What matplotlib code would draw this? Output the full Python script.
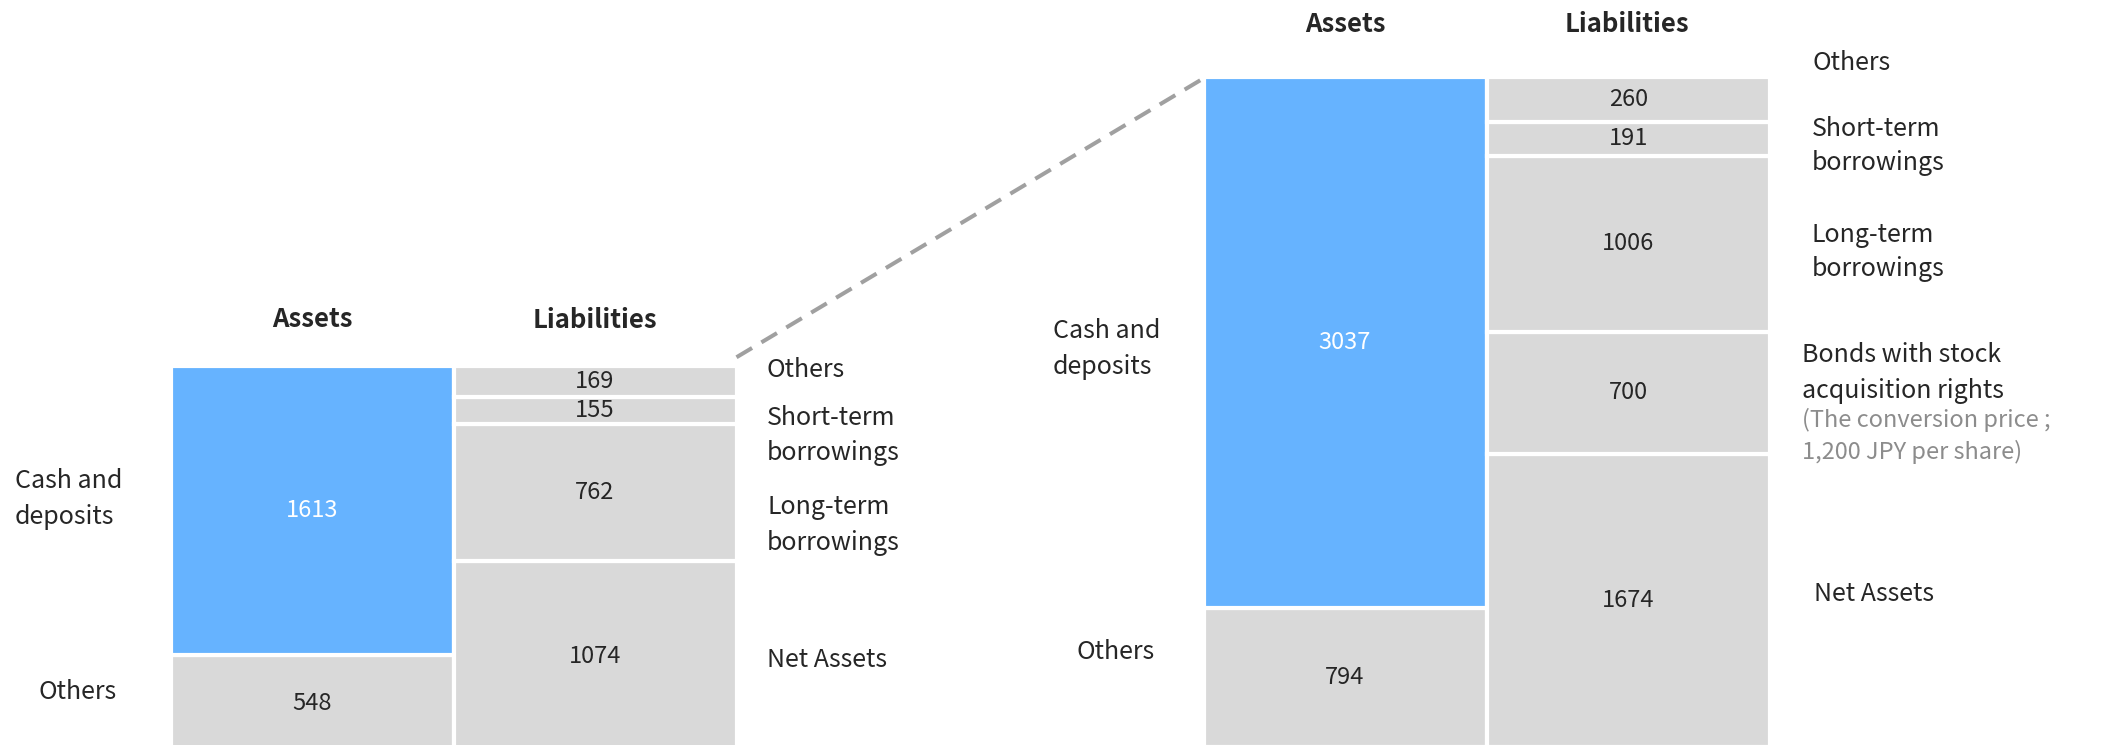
import matplotlib.pyplot as plt
from matplotlib.patches import ConnectionPatch

plt.rcParams['font.family'] = ['Noto Sans CJK JP', 'DejaVu Sans']

# Balance sheet before / after (bottom -> top)
asset_items = ["Others", "Cash and\ndeposits"]
before_assets = [548, 1613]
after_assets = [794, 3037]

before_liab_items = ["Net Assets", "Long-term\nborrowings", "Short-term\nborrowings", "Others"]
before_liabilities = [1074, 762, 155, 169]

after_liab_items = ["Net Assets", "Bonds with stock\nacquisition rights",
                    "Long-term\nborrowings", "Short-term\nborrowings", "Others"]
after_liabilities = [1674, 700, 1006, 191, 260]
bond_note = "(The conversion price ;\n1,200 JPY per share)"

BLUE = "#66B3FF"
GREY = "#D9D9D9"
TXT = "#262626"
W, H = 2104, 745

fig = plt.figure(figsize=(W / 100, H / 100), dpi=100)


def px(x, y):
    # pixel position (from top-left) -> figure fraction
    return x / W, 1 - y / H


def stack(ax, xc, values, colors, width=283):
    bottom = 0
    for v, c in zip(values, colors):
        ax.bar(xc, v, bottom=bottom, width=width, color=c,
               edgecolor="white", linewidth=3)
        ax.text(xc, bottom + v / 2, str(v), ha="center", va="center",
                fontsize=17, color="white" if c == BLUE else TXT)
        bottom += v
    return bottom


def make_axes(ylim):
    ax = fig.add_axes([0, 0, 1, 1])
    ax.set_xlim(0, W)
    ax.set_ylim(*ylim)
    ax.axis("off")
    ax.patch.set_alpha(0)
    return ax


# left: before
axL = make_axes((44.7, 4207))
top_l = stack(axL, 312, before_assets, [GREY, BLUE])
stack(axL, 595, before_liabilities, [GREY] * 4)

# right: after
axR = make_axes((11.4, 4268.6))
top_r = stack(axR, 1345, after_assets, [GREY, BLUE])
stack(axR, 1628.5, after_liabilities, [GREY] * 5)

# dashed connector between the two balance sheets
con = ConnectionPatch(xyA=(595 + 141.5, top_l + 50), coordsA=axL.transData,
                      xyB=(1345 - 141.5, top_r - 10), coordsB=axR.transData,
                      color="#A0A0A0", linestyle=(0, (4.5, 2.7)), linewidth=2.9,
                      capstyle="butt")
fig.add_artist(con)

title_kw = dict(ha="center", va="center", fontsize=18.5, fontweight="bold", color=TXT)
lab_kw = dict(ha="left", va="center", fontsize=18, color=TXT, linespacing=1.45)

# headers
fig.text(*px(312, 319), "Assets", **title_kw)
fig.text(*px(595, 321), "Liabilities", **title_kw)
fig.text(*px(1345, 24), "Assets", **title_kw)
fig.text(*px(1627, 24), "Liabilities", **title_kw)

# left labels
fig.text(*px(15, 499), asset_items[1], **lab_kw)
fig.text(*px(39, 692), asset_items[0], **lab_kw)
for lab, y in zip(before_liab_items, [660, 525, 435, 370]):
    fig.text(*px(767, y), lab, **lab_kw)

# right labels
fig.text(*px(1053, 349), asset_items[1], **lab_kw)
fig.text(*px(1076, 652), asset_items[0], **lab_kw)
for lab, x, y in zip(after_liab_items,
                     [1814, 1802, 1812, 1812, 1813],
                     [594, 373, 252, 146, 63]):
    fig.text(*px(x, y), lab, **lab_kw)
fig.text(*px(1802, 436), bond_note, ha="left", va="center", fontsize=17,
         color="#8C8C8C", linespacing=1.45)

fig.savefig("out.png", dpi=100)
